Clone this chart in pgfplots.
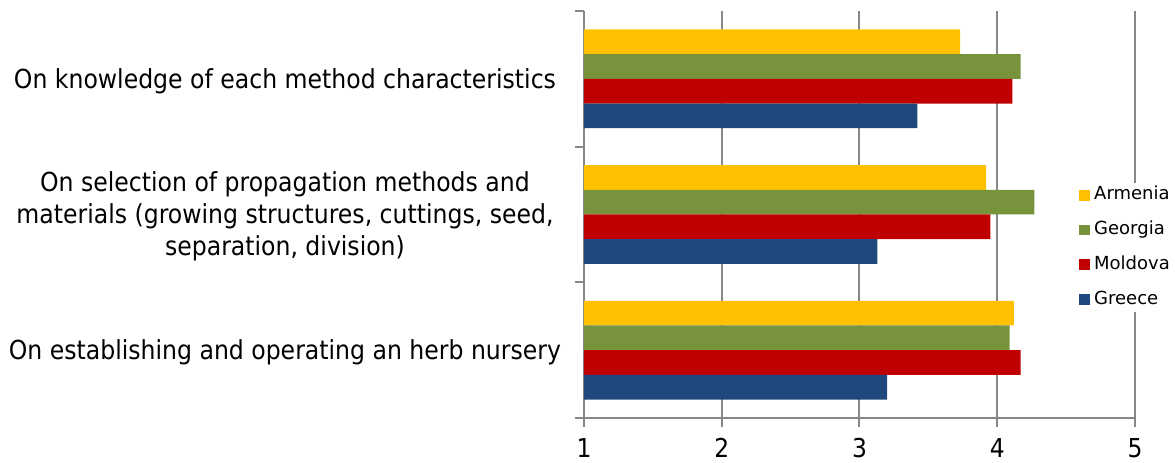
\documentclass[border=0pt]{standalone}
\usepackage{fontspec}
\setmainfont{DejaVu Sans Condensed}
\newfontfamily\legfamily{DejaVu Sans}
\usepackage{pgfplots}
\pgfplotsset{compat=1.18}
\definecolor{cArm}{HTML}{FFC000}
\definecolor{cGeo}{HTML}{77933C}
\definecolor{cMol}{HTML}{C00000}
\definecolor{cGre}{HTML}{1F497D}
\definecolor{gridgray}{HTML}{878787}
\newcommand{\labfont}{\fontsize{13.1}{16}\selectfont}
\newcommand{\tickfont}{\fontsize{13}{15}\selectfont}
\newcommand{\legfont}{\legfamily\fontsize{9}{10}\selectfont}
\begin{document}
\begin{tikzpicture}
\begin{axis}[
  name=ax,
  scale only axis,
  width=275.5pt, height=203.5pt,
  xmin=1, xmax=5, ymin=-0.5, ymax=2.5,
  xbar, bar width=0.182,
  axis lines*=left,
  axis line style={gridgray, line width=1pt},
  every tick/.style={gridgray, line width=1pt},
  tick align=outside,
  major tick length=4.5pt,
  xtick={1,2,3,4,5},
  xticklabel style={font=\tickfont, yshift=-2pt},
  /pgf/number format/assume math mode=true,
  xmajorgrids,
  major grid style={gridgray, line width=1pt},
  ytick={-0.5,0.5,1.5,2.5},
  yticklabels={},
  extra y ticks={0,1,2},
  extra y tick labels={{On establishing and operating an herb nursery},
    {On selection of propagation methods and\\materials (growing structures, cuttings, seed,\\separation, division)},
    {On knowledge of each method characteristics}},
  extra y tick style={major tick length=0pt,
    yticklabel style={font=\labfont, align=center, anchor=center, xshift=-149.5pt, yshift=-1pt}},
  legend style={at={(rel axis cs:0.898,0.419)}, anchor=west, draw=none, fill=white,
    font=\legfont, row sep=8.9pt, inner xsep=0pt, inner ysep=2pt,
    nodes={inner ysep=0pt, inner xsep=2pt, text height=6.6pt, text depth=1.9pt}},
  legend cell align=left,
  legend image code/.code={\fill[#1] (0pt,-2.7pt) rectangle (5.5pt,2.7pt);},
]
\addplot[fill=cArm, draw=none, bar shift=0.273] coordinates {(3.73,2) (3.92,1) (4.12,0)};
\addlegendentry{Armenia}
\addplot[fill=cGeo, draw=none, bar shift=0.091] coordinates {(4.17,2) (4.27,1) (4.09,0)};
\addlegendentry{Georgia}
\addplot[fill=cMol, draw=none, bar shift=-0.091] coordinates {(4.11,2) (3.95,1) (4.17,0)};
\addlegendentry{Moldova}
\addplot[fill=cGre, draw=none, bar shift=-0.273] coordinates {(3.42,2) (3.13,1) (3.20,0)};
\addlegendentry{Greece}
\end{axis}
\pgfresetboundingbox
\path[use as bounding box] ([xshift=-292pt,yshift=-22.5pt]ax.south west) rectangle ([xshift=20pt,yshift=5.5pt]ax.north east);
\end{tikzpicture}
\end{document}
